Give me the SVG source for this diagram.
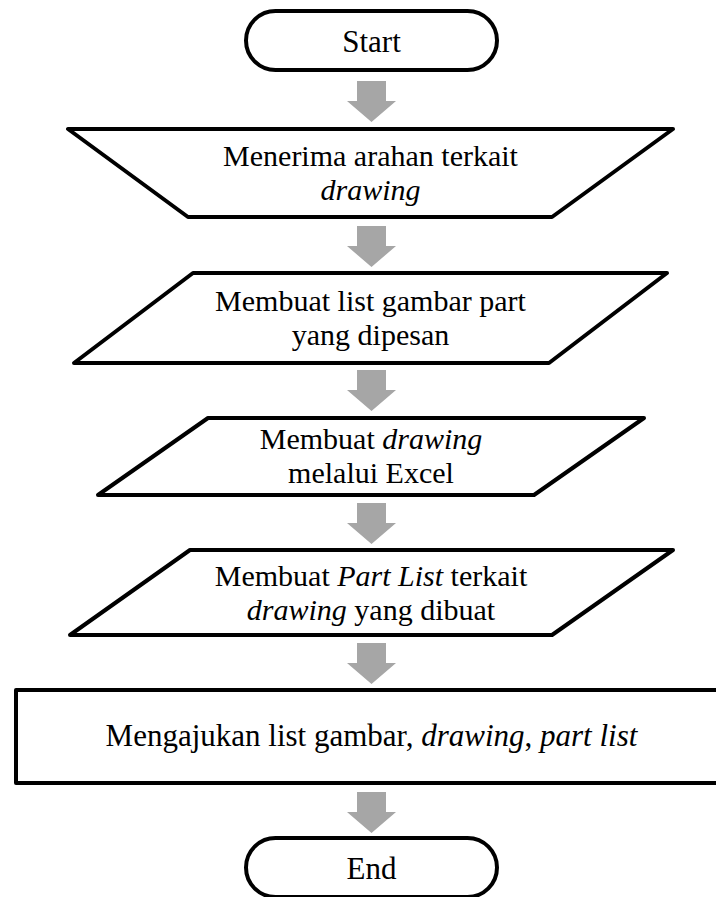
<svg xmlns="http://www.w3.org/2000/svg" width="716" height="897" viewBox="0 0 716 897">
<defs>
<style>
.shape{fill:#fff;stroke:#000;stroke-width:4;stroke-linejoin:round}
.arrow{fill:#a6a6a6;stroke:none}
text{font-family:"Liberation Serif","Times New Roman",serif;font-size:30px;fill:#000;text-anchor:middle}
.i{font-style:italic}
</style>
<path id="arr" class="arrow" d="M-14.5,0 H14.5 V20 H24.5 L0,41 L-24.5,20 H-14.5 Z"/>
</defs>
<rect width="716" height="897" fill="#fff"/>
<g id="connectors">
<use href="#arr" x="371.5" y="81"/>
<use href="#arr" x="371.5" y="226"/>
<use href="#arr" x="371.5" y="370"/>
<use href="#arr" x="371.5" y="503"/>
<use href="#arr" x="371.5" y="643"/>
<use href="#arr" x="371.5" y="792"/>
</g>
<g id="start">
<rect class="shape" x="246" y="11" width="251" height="59" rx="29.5"/>
<text x="371.5" y="52" style="font-size:31px">Start</text>
</g>
<g id="receive">
<path class="shape" d="M68,129 H673 L552,217 H188 Z"/>
<text x="370.5" y="166">Menerima arahan terkait</text>
<text x="370.5" y="200" class="i">drawing</text>
</g>
<g id="list">
<path class="shape" d="M193,273 H667 L549,363 H74 Z"/>
<text x="370.5" y="311">Membuat list gambar part</text>
<text x="370.5" y="345">yang dipesan</text>
</g>
<g id="drawing">
<path class="shape" d="M208,418 H644 L534,495 H98 Z"/>
<text x="371" y="449">Membuat <tspan class="i">drawing</tspan></text>
<text x="371" y="483">melalui Excel</text>
</g>
<g id="partlist">
<path class="shape" d="M190,550 H673 L552,635 H70 Z"/>
<text x="371" y="586">Membuat <tspan class="i">Part List</tspan> terkait</text>
<text x="371" y="620"><tspan class="i">drawing</tspan> yang dibuat</text>
</g>
<g id="submit">
<rect class="shape" x="16" y="690" width="720" height="93"/>
<text x="371.5" y="746" style="font-size:31px">Mengajukan list gambar, <tspan class="i">drawing</tspan>, <tspan class="i">part list</tspan></text>
</g>
<g id="end">
<rect class="shape" x="246" y="838" width="251" height="59" rx="29.5"/>
<text x="371.5" y="879" style="font-size:31px">End</text>
</g>
</svg>
